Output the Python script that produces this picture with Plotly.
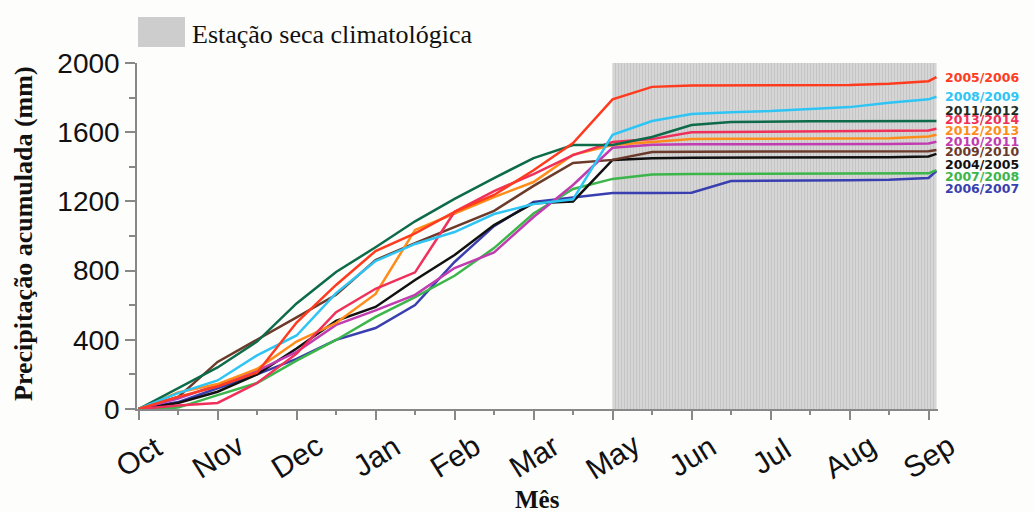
import plotly.graph_objects as go

# ---------------- data ----------------
month_labels = ["Oct", "Nov", "Dec", "Jan", "Feb", "Mar", "May", "Jun", "Jul", "Aug", "Sep"]
month_pos = [0, 1, 2, 3, 4, 5, 6, 7, 8, 9, 10]

# sampling positions (half-month steps along the month axis)
x_pos = [0, 0.5, 1, 1.5, 2, 2.5, 3, 3.5, 4, 4.5, 5, 5.5, 6, 6.5, 7, 7.5, 8, 8.5, 9, 9.5, 10, 10.1]

dry_start = 6
dry_end = 10.1
y_max = 2000

s_2005_2006 = [0, 70, 130, 210, 500, 717, 913, 1015, 1139, 1237, 1380, 1537, 1790, 1862, 1870, 1871, 1872, 1872, 1873, 1880, 1895, 1918]
s_2008_2009 = [0, 92, 165, 310, 425, 670, 855, 954, 1023, 1127, 1185, 1212, 1585, 1665, 1705, 1716, 1722, 1735, 1745, 1770, 1790, 1805]
s_2011_2012 = [0, 120, 240, 390, 610, 792, 935, 1085, 1215, 1335, 1450, 1526, 1526, 1572, 1642, 1659, 1662, 1663, 1663, 1664, 1665, 1665]
s_2013_2014 = [0, 20, 35, 150, 320, 560, 695, 790, 1140, 1260, 1358, 1468, 1543, 1560, 1600, 1601, 1602, 1603, 1604, 1605, 1610, 1620]
s_2012_2013 = [0, 95, 144, 231, 390, 497, 665, 1035, 1130, 1225, 1312, 1470, 1526, 1545, 1560, 1562, 1563, 1564, 1564, 1565, 1575, 1585]
s_2010_2011 = [0, 60, 140, 220, 330, 486, 570, 660, 815, 905, 1110, 1295, 1510, 1528, 1530, 1530, 1531, 1531, 1531, 1532, 1535, 1545]
s_2009_2010 = [0, 69, 272, 399, 530, 660, 861, 959, 1052, 1145, 1290, 1422, 1440, 1486, 1487, 1487, 1487, 1488, 1488, 1488, 1490, 1497]
s_2004_2005 = [0, 35, 100, 200, 350, 510, 590, 746, 890, 1063, 1190, 1200, 1440, 1450, 1452, 1452, 1453, 1453, 1454, 1455, 1460, 1475]
s_2007_2008 = [0, 8, 80, 150, 280, 399, 532, 647, 770, 930, 1130, 1272, 1330, 1356, 1358, 1358, 1358, 1359, 1359, 1360, 1362, 1381]
s_2006_2007 = [0, 40, 120, 200, 290, 400, 468, 601, 850, 1057, 1197, 1222, 1249, 1249, 1250, 1318, 1318, 1320, 1322, 1325, 1335, 1376]

series_names = ["2005/2006", "2008/2009", "2011/2012", "2013/2014", "2012/2013",
                "2010/2011", "2009/2010", "2004/2005", "2007/2008", "2006/2007"]
series_values = [s_2005_2006, s_2008_2009, s_2011_2012, s_2013_2014, s_2012_2013,
                 s_2010_2011, s_2009_2010, s_2004_2005, s_2007_2008, s_2006_2007]

# ---------------- styles / layout constants ----------------
line_colors = ["#FF3B1F", "#2EC5F5", "#0E6B4A", "#F0305A", "#FF8C1A",
               "#C03CB0", "#6B3A2A", "#111111", "#3CB54A", "#3A3FB0"]
label_colors = ["#FF3B1F", "#2EC5F5", "#1C2B24", "#F0305A", "#FF8C1A",
                "#C03CB0", "#6B3A2A", "#111111", "#3CB54A", "#3A3FB0"]
# vertical pixel centres of the end labels
label_px = [78, 96, 110, 120, 130, 141, 151, 164, 176, 188]
label_left_px = 944

W, H = 1035, 512
ML, MR, MT, MB = 137, 97, 63, 103
plot_h = H - MT - MB
plot_w = W - ML - MR
bottom_px = H - MB


def px_to_paper_x(px):
    return (px - ML) / plot_w


def px_to_paper_y(py):
    return (bottom_px - py) / plot_h


fig = go.Figure()

# dry-season band
fig.add_trace(go.Scatter(
    x=[dry_start, dry_end, dry_end, dry_start, dry_start],
    y=[0, 0, y_max, y_max, 0],
    fill="toself", mode="lines", line=dict(width=0),
    fillcolor="#d4d4d4",
    fillpattern=dict(shape="|", size=3, solidity=0.35, fgcolor="#b4b4b4", bgcolor="#d6d6d6"),
    hoverinfo="skip", showlegend=False))

order = list(range(len(series_names)))[::-1]
for i in order:
    fig.add_trace(go.Scatter(
        x=x_pos, y=series_values[i], mode="lines", name=series_names[i],
        line=dict(color=line_colors[i], width=2.5), showlegend=False))

annotations = []
for i, name in enumerate(series_names):
    annotations.append(dict(
        x=px_to_paper_x(label_left_px), y=px_to_paper_y(label_px[i]),
        xref="paper", yref="paper", text="<b>" + name + "</b>",
        showarrow=False, xanchor="left", yanchor="middle", borderpad=0,
        font=dict(family="DejaVu Sans", size=12.5, color=label_colors[i])))

for p, m in zip(month_pos, month_labels):
    annotations.append(dict(
        x=p, y=px_to_paper_y(456), xref="x", yref="paper", text=m,
        showarrow=False, xanchor="center", yanchor="middle", textangle=-32,
        font=dict(family="Liberation Sans", size=30, color="#111111")))

annotations.append(dict(
    x=0.5, y=px_to_paper_y(499), xref="paper", yref="paper", text="<b>Mês</b>",
    showarrow=False, xanchor="center", yanchor="middle",
    font=dict(family="Liberation Serif", size=25, color="#111111")))

annotations.append(dict(
    x=px_to_paper_x(24), y=px_to_paper_y(234), xref="paper", yref="paper",
    text="<b>Precipitação acumulada (mm)</b>", textangle=-90,
    showarrow=False, xanchor="center", yanchor="middle",
    font=dict(family="Liberation Serif", size=26, color="#111111")))

annotations.append(dict(
    x=px_to_paper_x(190), y=px_to_paper_y(35), xref="paper", yref="paper",
    text="Estação seca climatológica", showarrow=False, xanchor="left", yanchor="middle",
    font=dict(family="Liberation Serif", size=26, color="#111111")))

shapes = [dict(
    type="rect", xref="paper", yref="paper",
    x0=px_to_paper_x(138), x1=px_to_paper_x(185),
    y0=px_to_paper_y(47), y1=px_to_paper_y(17),
    fillcolor="#cdcdcd", line=dict(width=0), layer="above")]

fig.update_layout(
    width=W, height=H,
    margin=dict(l=ML, r=MR, t=MT, b=MB, pad=0),
    paper_bgcolor="#fdfdfb", plot_bgcolor="#fdfdfb",
    annotations=annotations, shapes=shapes, showlegend=False,
    xaxis=dict(range=[-0.02, 10.12], showgrid=False, zeroline=False,
               tickvals=month_pos, showticklabels=False,
               ticks="outside", ticklen=9, tickcolor="#888888", tickwidth=1.5,
               showline=True, linecolor="#888888", linewidth=1.5,
               minor=dict(dtick=0.5, tick0=0, ticks="outside", ticklen=4,
                          tickcolor="#888888", tickwidth=1.5)),
    yaxis=dict(range=[0, y_max], showgrid=False, zeroline=False,
               tickvals=[0, 400, 800, 1200, 1600, 2000],
               ticks="outside", ticklen=10, tickcolor="#888888", tickwidth=1.5,
               showline=True, linecolor="#888888", linewidth=1.5,
               tickfont=dict(family="Liberation Sans", size=28, color="#111111"),
               minor=dict(dtick=200, tick0=0, ticks="outside", ticklen=6,
                          tickcolor="#888888", tickwidth=1.5)),
)

fig.write_html("out.html")
